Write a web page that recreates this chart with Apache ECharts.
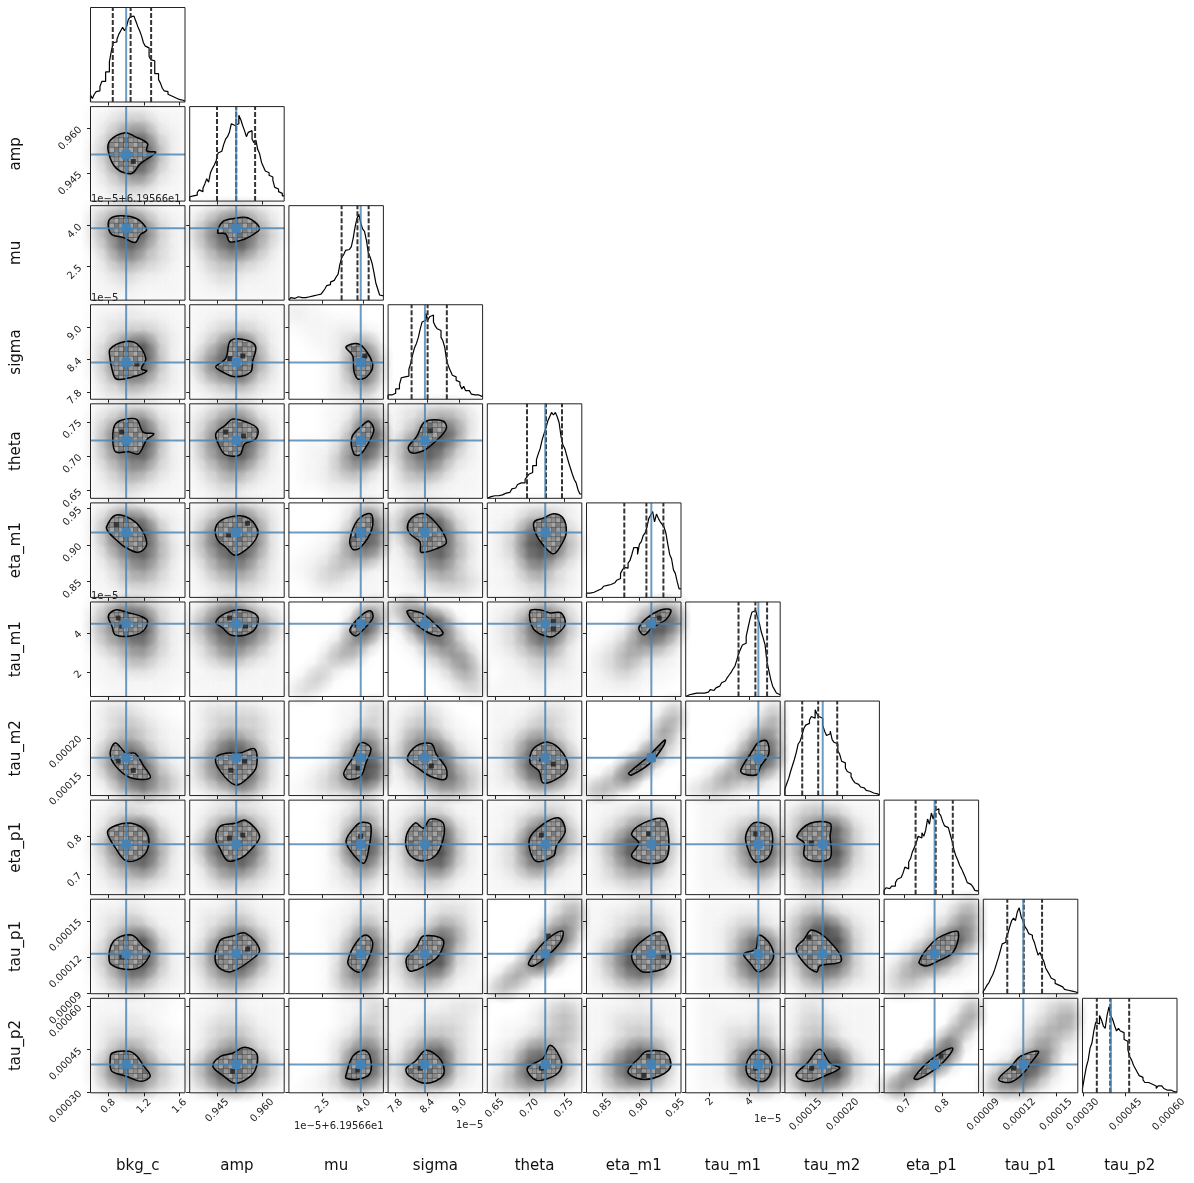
<!DOCTYPE html>
<html><head><meta charset="utf-8">
<style>html,body{margin:0;padding:0;background:#fff}#c{width:1194px;height:1183px}</style>
<script src="https://cdn.jsdelivr.net/npm/echarts@6/dist/echarts.min.js"></script>
</head><body><div id="c"></div>
<script>
// Units: mu is shown as (value-61.9566)/1e-5; sigma, tau_* are in units of 1e-5.
const paramNames=["bkg_c","amp","mu","sigma","theta","eta_m1","tau_m1","tau_m2","eta_p1","tau_p1","tau_p2"];
const axisMin=[0.60,0.9358,1.27,7.66,0.639,0.828,0.79,12.19,0.647,9.0,29.9];
const axisMax=[1.66,0.9673,4.73,9.43,0.776,0.958,5.55,24.96,0.896,16.8,62.9];
const tickValues=[[0.8,1.2,1.6],[0.945,0.96],[2.5,4],[7.8,8.4,9],[0.65,0.7,0.75],[0.85,0.9,0.95],[2,4],[15,20],[0.7,0.8],[9,12,15],[30,45,60]];
const tickLabels=[["0.8","1.2","1.6"],["0.945","0.960"],["2.5","4.0"],["7.8","8.4","9.0"],["0.65","0.70","0.75"],["0.85","0.90","0.95"],["2","4"],["0.00015","0.00020"],["0.7","0.8"],["0.00009","0.00012","0.00015"],["0.00030","0.00045","0.00060"]];
const truths=[1.0,0.9513,3.9,8.35,0.723,0.9172,4.45,17.3,0.78,12.3,39.8];
const quantiles=[[0.85,1.05,1.28],[0.9449,0.9513,0.9576],[3.2,3.78,4.19],[8.10,8.40,8.76],[0.6966,0.7241,0.7473],[0.880,0.9104,0.9338],[3.45,4.30,4.89],[14.53,16.69,19.26],[0.730,0.783,0.828],[10.98,12.34,13.85],[34.9,39.6,46.2]];

const hist_bkg_c=[8,4,9,12,13,18,24,24,35,35,47,59,69,70,73,79,83,87,83,87,96,99,100,98,94,88,83,77,69,65,63,53,49,48,33,33,26,22,16,13,12,9,7,7,5,4,3,3,2,1];
const hist_amp=[5,6,5,7,10,13,11,15,20,26,22,33,38,42,47,56,58,60,66,72,75,80,90,88,87,90,100,95,88,82,75,80,82,72,68,71,60,55,45,40,35,33,30,28,24,16,14,11,9,6];
const hist_mu=[2,3,2,4,4,3,3,4,3,4,4,5,5,5,6,6,7,9,10,13,17,18,21,23,25,27,30,42,50,53,58,59,60,62,72,85,95,100,90,83,80,70,55,50,43,32,20,13,6,5];
const hist_sigma=[5,5,7,7,12,12,17,25,26,28,27,35,42,52,60,65,72,82,90,92,100,92,96,98,90,85,82,80,72,68,60,45,38,33,28,26,22,20,17,12,15,10,10,8,6,5,7,5,5,3];
const hist_theta=[2,2,2,3,3,3,4,4,6,6,8,7,9,11,12,14,16,18,20,18,22,25,28,30,38,38,45,52,58,68,75,82,90,95,100,97,100,95,88,72,62,58,50,42,35,28,22,18,10,5];
const hist_eta_m1=[5,5,6,6,7,8,9,10,10,13,14,12,15,17,17,18,20,22,28,32,35,34,40,43,50,58,58,50,62,65,72,75,82,92,96,100,88,97,92,88,85,82,75,62,50,45,32,28,18,10];
const hist_tau_m1=[2,2,4,3,4,4,3,4,5,4,5,5,6,8,7,8,10,12,14,16,18,20,22,25,28,32,35,42,50,55,60,62,70,80,90,98,100,98,92,85,75,68,60,40,30,20,12,8,4,2];
const hist_tau_m2=[8,14,20,28,35,42,50,60,63,70,78,82,84,88,92,90,100,95,92,90,82,75,70,72,75,65,62,60,52,48,40,38,32,28,26,22,18,15,13,12,10,9,8,6,5,5,3,3,2,1];
const hist_eta_p1=[5,8,7,9,10,10,14,18,20,22,25,32,30,38,42,50,55,60,68,66,72,68,75,88,82,95,88,98,100,95,92,85,80,78,78,70,62,52,45,40,34,30,25,20,14,12,10,9,5,4];
const hist_tau_p1=[3,6,10,13,18,22,28,35,42,50,58,60,65,70,78,85,88,85,95,100,90,85,78,75,70,68,65,60,52,45,48,42,38,30,26,22,18,16,12,10,9,8,7,5,4,3,3,2,2,1];
const hist_tau_p2=[5,18,30,38,52,58,72,82,80,90,85,78,75,90,100,90,85,78,72,75,72,70,62,60,50,42,38,32,28,24,20,18,15,12,12,10,10,8,8,5,8,8,6,5,3,4,3,2,1,1];
const histograms=[hist_bkg_c,hist_amp,hist_mu,hist_sigma,hist_theta,hist_eta_m1,hist_tau_m1,hist_tau_m2,hist_eta_p1,hist_tau_p1,hist_tau_p2];

// Sample density read per panel: 8 rows (top to bottom) of 8 bins, 0-9. One entry per x parameter.
const dens_amp=["11222111 12344211 13577321 24799521 24799521 13577321 12344211 01221111"];
const dens_mu=["23443211 35786321 35898421 24785321 13564321 12332211 11221111 11111111",
"12344321 24687531 35899642 24688531 13454321 12332211 11221111 11111111"];
const dens_sigma=["11121111 12222211 12344321 23689421 24799521 24788421 13465321 12232211",
"11111111 11222211 12344321 13589521 25799631 25789531 13456321 11222211",
"21100000 11111100 01112221 00112462 00012684 00012684 00012473 00012231"];
const dens_theta=["12233211 23577321 25799521 25799521 24678421 13465321 12343211 11221111",
"12344211 23577421 24789631 25799631 24688521 13465321 12343211 11221111",
"00011243 00011375 00012598 01113697 01124785 01124542 01122321 00011111",
"12233321 12356531 13589731 25798521 25786321 14564211 13332111 11211111"];
const dens_eta_m1=["12332111 24787321 25899521 24789531 13578531 12356421 11344321 11122211",
"12344321 23578531 25899731 35899731 24688531 13566421 12344321 11222211",
"00001243 00001386 00012597 00113787 01124564 11234321 01232111 00111111",
"13443211 25797321 25899521 13689531 12478531 11356421 11234432 01112221",
"11122221 11245421 12379842 12489953 12378742 11256321 11234321 11122211"];
const dens_tau_m1=["24665321 35899421 35799421 24567421 12355321 11233211 11111111 01111110",
"13575321 35899642 35899752 23677531 13464321 11222111 11111111 11111111",
"00000134 00000396 00001694 00013641 00035410 00231100 02410000 23100000",
"36520000 14897200 02698410 01257521 00134651 00012463 00001243 00000123",
"11235431 12369842 12369952 12357631 11234421 01123221 01112111 11111111",
"00002354 00014797 00126985 01246652 12354321 12342111 11221110 11111000"];
const dens_tau_m2=["12221100 12332110 12343211 13553211 25796321 25798421 13689542 11457542",
"12222211 12333321 12343321 13576421 24799631 25799631 24689631 12346421",
"00001123 00001123 00001243 00012475 00013696 00124798 01235897 11233452",
"11221000 12332100 13442110 14675211 25798421 13699532 12468743 11235542",
"11112221 11123321 11234321 12367531 12479852 12489953 12368852 11134321",
"00000013 00000035 00000163 00000352 00003831 00069300 02582000 45300000",
"00000013 00000125 00001255 00001586 00014797 00126985 01364531 23432111"];
const dens_eta_p1=["11222111 12343211 13689421 25899531 24799631 13568521 12344321 11222111",
"11222211 12344321 13689531 25899731 25899731 13678531 12454321 11222211",
"00001232 00012353 00012674 00013897 00014896 00012574 00012342 00011221",
"11222111 12344211 13689421 14799521 14799521 13578421 12344211 11222111",
"11112221 11234431 11258952 12389953 12379742 12367421 11233211 11111111",
"11112211 11234331 12357741 13589952 13589952 12467741 12344321 11122211",
"01111111 01112232 01123574 01124796 01124797 01123675 01112342 01111121",
"12322111 24454211 25798421 36897421 36899421 25687321 13454211 12322111"];
const dens_tau_p1=["11121111 12232111 12354211 13689421 24799521 24799521 13576321 12343211",
"11122111 12233211 12355321 13689631 24899731 24799631 13566321 12343211",
"00001122 00011232 00011354 00012586 00013697 00013795 00014674 00013442",
"11112221 11123321 11236531 12479631 14799421 24789321 13565211 12332111",
"00000134 00000245 00002574 00013882 00039831 00269410 03631000 35210000",
"11112211 11223321 11234431 12358741 13589851 13589952 12467641 11233211",
"01111111 01112221 01123432 01124785 01125796 01125896 01124675 01112342",
"12321111 24553211 35897321 36899421 36899421 25798421 14665321 12332111",
"00001134 00001255 00013475 00125985 01368841 13577421 24532110 23210000"];
const dens_tau_p2=["11111110 11121100 12222110 12333211 13564211 25797421 25897431 13465321",
"11121111 11222111 12333211 12344221 13576421 35899642 35899642 23565321",
"00001123 00001123 00001243 00012354 00013686 00013897 00124996 01123543",
"11111222 11122221 11233321 12344321 13588421 24799421 24789321 13443211",
"00001232 00012343 01112343 01134443 12367532 12489852 13589742 23454321",
"11112111 11222211 11233311 11234331 12468741 13689851 13589741 12444321",
"01111111 01111121 01122232 01123342 01124675 01125897 01125896 01113453",
"12211111 12321111 13332111 13442111 25676311 36899421 36899421 25664211",
"00000014 00000036 00000162 00001730 00016910 00389300 04851000 57200000",
"00001233 00011345 00013454 00124532 00136621 02389510 25896310 36653100"];
const densities=[[],dens_amp,dens_mu,dens_sigma,dens_theta,dens_eta_m1,dens_tau_m1,dens_tau_m2,dens_eta_p1,dens_tau_p1,dens_tau_p2];

// Contour outlines as [x,y] in data units. One entry per x parameter.
const cont_amp=[[[.82,.956],[.99,.9586],[1.10,.9573],[1.24,.955],[1.23,.9526],[1.33,.952],[1.16,.9483],[1.06,.945],[.89,.9467],[.80,.9523]]];
const cont_mu=[[[.82,4.25],[.94,4.36],[1.12,4.25],[1.23,3.85],[1.16,3.67],[1.10,3.38],[.97,3.56],[.84,3.67],[.80,3.96]],
[[.9451,3.74],[.9468,4.14],[.9501,4.25],[.9551,4.29],[.9591,3.89],[.9558,3.6],[.9525,3.45],[.9491,3.41],[.9478,3.7]]];
const cont_sigma=[[[.82,8.6],[.99,8.74],[1.12,8.7],[1.22,8.42],[1.17,8.23],[1.23,8.19],[1.08,8.08],[.89,8.04],[.84,8.23],[.82,8.42]],
[[.9445,8.27],[.9478,8.42],[.9495,8.76],[.9551,8.76],[.9578,8.64],[.9568,8.38],[.9561,8.17],[.9511,8.08],[.9468,8.17]],
[[3.36,8.64],[3.8,8.7],[4.12,8.55],[4.34,8.29],[4.12,8.08],[3.8,8.04],[3.65,8.19],[3.61,8.47]]];
const cont_theta=[[[.88,.747],[1.0,.754],[1.12,.753],[1.19,.735],[1.31,.7325],[1.23,.724],[1.14,.7035],[1.03,.7065],[.88,.7065],[.85,.728]],
[[.9445,.7325],[.9478,.7455],[.9501,.754],[.9544,.75],[.9584,.74],[.9578,.725],[.9541,.718],[.9525,.702],[.9478,.702],[.9458,.7135]],
[[3.58,.728],[3.98,.7455],[4.2,.751],[4.38,.738],[4.16,.718],[3.87,.702],[3.65,.7035]],
[[8.04,.7137],[8.19,.728],[8.35,.75],[8.69,.751],[8.75,.74],[8.54,.721],[8.32,.708],[8.09,.705]]];
const cont_eta_m1=[[[.78,.925],[.88,.941],[1.05,.936],[1.17,.922],[1.23,.901],[1.14,.890],[.99,.897],[.89,.907],[.80,.918]],
[[.9445,.925],[.9478,.937],[.9544,.939],[.9584,.922],[.9578,.908],[.9544,.893],[.9508,.886],[.9478,.897],[.9451,.907]],
[[3.5,.907],[3.8,.935],[4.27,.943],[4.31,.922],[3.9,.897],[3.61,.894]],
[[8.02,.925],[8.13,.939],[8.35,.943],[8.56,.930],[8.69,.917],[8.75,.903],[8.6,.896],[8.28,.890],[8.26,.904],[8.09,.914]],
[[.707,.932],[.72,.937],[.735,.943],[.749,.937],[.7535,.917],[.746,.900],[.735,.888],[.72,.900],[.7086,.917]]];
const cont_tau_m1=[[[.80,4.84],[.88,5.15],[1.03,5.0],[1.16,4.84],[1.24,4.59],[1.19,4.09],[1.05,3.84],[.88,3.89],[.84,4.34]],
[[.9445,4.54],[.9478,4.99],[.9535,5.15],[.9584,4.84],[.9578,4.24],[.9544,3.89],[.9495,3.89],[.9468,4.24]],
[[3.5,4.14],[3.9,4.84],[4.27,5.1],[4.34,4.74],[3.98,4.14],[3.72,3.84]],
[[8.02,5.1],[8.28,5.0],[8.54,4.44],[8.69,3.99],[8.6,3.84],[8.35,4.09],[8.09,4.69]],
[[.701,5.1],[.716,5.15],[.730,5.0],[.746,5.0],[.752,4.44],[.742,3.99],[.730,3.79],[.706,4.19]],
[[.900,4.24],[.911,4.74],[.930,5.15],[.944,5.15],[.938,4.69],[.918,4.24],[.907,3.89]]];
const cont_tau_m2=[[[.82,17.9],[.88,19.3],[1.0,17.9],[1.10,17.9],[1.19,16.3],[1.27,14.6],[1.05,14.6],[.88,16.2]],
[[.9445,17.3],[.9478,17.9],[.9525,17.9],[.9574,18.5],[.9581,16.2],[.9558,14.8],[.9511,13.6],[.9458,15.6]],
[[3.28,15.2],[3.61,17.3],[3.9,19.3],[4.27,18.6],[4.09,16.6],[3.9,14.8],[3.43,14.4]],
[[8.02,17.1],[8.19,18.9],[8.47,19.2],[8.56,17.8],[8.75,15.8],[8.73,14.4],[8.45,14.8],[8.22,15.9]],
[[.7057,18.5],[.7275,19.4],[.749,17.9],[.755,15.8],[.739,14.4],[.720,13.9],[.714,15.5],[.701,16.6]],
[[.886,15.2],[.911,17.3],[.936,19.7],[.934,18.9],[.916,16.6],[.890,14.96]],
[[3.56,15.6],[4.07,17.9],[4.47,19.4],[4.87,19.56],[4.97,17.8],[4.57,16.2],[4.37,15],[3.71,15.1]]];
const cont_eta_p1=[[[.79,.812],[.89,.830],[1.06,.835],[1.22,.814],[1.25,.775],[1.16,.743],[1.0,.736],[.88,.77]],
[[.9445,.796],[.9461,.828],[.9511,.835],[.9544,.843],[.9591,.801],[.9558,.762],[.9528,.743],[.9485,.736],[.9458,.77]],
[[3.36,.788],[3.72,.828],[3.98,.838],[4.27,.83],[4.2,.77],[4.02,.73],[3.65,.751]],
[[8.0,.801],[8.17,.836],[8.32,.822],[8.45,.846],[8.69,.836],[8.69,.793],[8.54,.749],[8.26,.736],[8.04,.757]],
[[.70,.793],[.72,.833],[.743,.849],[.752,.814],[.739,.775],[.735,.749],[.709,.736]],
[[.890,.807],[.907,.836],[.934,.846],[.941,.801],[.937,.741],[.911,.730],[.890,.749],[.900,.783]],
[[3.81,.801],[4.22,.836],[4.97,.828],[5.17,.793],[4.97,.746],[4.32,.733],[3.96,.762]],
[[13.8,.801],[15.6,.835],[18.3,.835],[18.3,.801],[18.3,.743],[16.1,.735],[14.8,.749],[14.8,.783]]];
const cont_tau_p1=[[[.81,11.7],[.86,13.35],[1.06,13.84],[1.19,12.94],[1.27,12.36],[1.14,11.13],[.91,11.13]],
[[.9445,11.54],[.9458,13.35],[.9501,13.76],[.9544,14],[.9591,12.6],[.9558,11.7],[.9491,10.8]],
[[3.43,11.7],[3.72,13.18],[4.09,13.84],[4.34,13.18],[4.16,11.79],[3.9,10.8],[3.54,11.13]],
[[8.0,11.87],[8.19,12.85],[8.32,13.76],[8.69,13.43],[8.6,12.11],[8.35,11.29],[8.07,10.88]],
[[.6985,11.46],[.71,12.53],[.730,13.68],[.748,14.17],[.746,13.35],[.7245,12.03],[.706,11.29]],
[[.890,12.1],[.9025,13.26],[.930,14.09],[.944,12.1],[.938,11.2],[.916,10.8],[.9025,10.88]],
[[3.71,12.28],[4.32,12.69],[4.47,13.84],[5.07,13.02],[5.17,11.79],[4.47,10.8],[4.07,11.46]],
[[13.7,12.69],[14.8,13.51],[15.8,14.25],[18.3,13.27],[19.8,11.7],[16.9,11.3],[16.5,10.8],[14.9,11.46]],
[[.739,11.62],[.776,13.27],[.810,13.92],[.842,14.09],[.829,12.44],[.784,11.62],[.757,11.29]]];
const cont_tau_p2=[[[.82,40.9],[.84,43.7],[1.03,44.4],[1.12,42.7],[1.19,39.5],[1.27,35.7],[1.17,33.9],[1.0,35.7],[.84,37.4]],
[[.9435,39.2],[.9461,42.66],[.9501,43.7],[.9541,45.8],[.9581,43.7],[.9581,39.2],[.9561,35.7],[.9511,33.2],[.9468,36.0]],
[[3.36,36.0],[3.61,42.66],[4.02,44.75],[4.24,42.66],[4.24,36.7],[3.8,34.6],[3.36,35.0]],
[[8.0,38.5],[8.17,40.9],[8.37,44.75],[8.65,41.3],[8.69,36],[8.37,33.2],[8.04,36]],
[[.697,38.5],[.72,41.96],[.730,46.5],[.745,41.96],[.746,38.5],[.735,35.7],[.71,34.3]],
[[.885,37.4],[.900,41.96],[.911,44.4],[.938,43.7],[.943,38.5],[.920,35],[.897,35]],
[[3.86,40.2],[4.37,44.75],[4.97,42.66],[5.12,37.8],[4.72,33.9],[3.96,35.7]],
[[13.7,36.4],[15.2,40.2],[16.9,45.1],[18.3,40.2],[19.6,38.5],[17.5,35.7],[15.6,33.9],[14.2,34.6]],
[[.726,35],[.757,39.9],[.802,44.4],[.828,45.45],[.810,41.6],[.781,38.1],[.736,34.6]],
[[10.26,34.6],[11.33,39.2],[12.07,42.66],[13.55,44.4],[12.9,40.2],[12.3,36.7],[11.25,33.6]]];
const contours=[[],cont_amp,cont_mu,cont_sigma,cont_theta,cont_eta_m1,cont_tau_m1,cont_tau_m2,cont_eta_p1,cont_tau_p1,cont_tau_p2];

// Densest 2D-histogram bins seen in a panel: [x parameter index, x, y]. One list per y parameter.
const peak_amp=[[0,1.08,.949]];
const peak_mu=[];
const peak_sigma=[[0,1.12,8.32],[1,.9491,8.42],[1,.9535,8.47],[2,4.05,8.47]];
const peak_theta=[[0,.95,.735],[1,.9478,.735],[1,.9538,.7295],[3,8.45,.737]];
const peak_eta_m1=[[0,.89,.928],[1,.9488,.914],[1,.9551,.93],[2,3.76,.914]];
const peak_tau_m1=[[0,.91,4.74],[0,.95,4.34],[1,.9491,4.74],[1,.9544,4.34],[2,3.76,4.39],[4,.7347,4.59],[4,.7347,4.19],[5,.928,4.74]];
const peak_tau_m2=[[0,.91,16.85],[0,1.08,15.6],[1,.9495,15.6],[1,.9541,16.85],[2,3.8,15.9],[3,8.47,16.2],[4,.7173,17.1],[4,.7347,16.45],[6,4.47,17.3]];
const peak_eta_p1=[[1,.9491,.796],[1,.9535,.804],[2,3.9,.801],[4,.7173,.804],[5,.9136,.807],[6,4.32,.807],[7,15.8,.783]];
const peak_tau_p1=[[0,.95,12.03],[1,.9551,12.69],[4,.7275,13.76],[5,.934,12.1],[7,15.4,13.68]];
const peak_tau_p2=[[1,.9501,37.4],[2,3.8,37.8],[3,8.26,38.5],[4,.7173,38.5],[5,.907,36],[5,.9136,42.7],[6,4.32,38.5],[7,15.8,38.5],[8,.797,42.7],[9,11.5,38.5]];
const peaks=[[],peak_amp,peak_mu,peak_sigma,peak_theta,peak_eta_m1,peak_tau_m1,peak_tau_m2,peak_eta_p1,peak_tau_p1,peak_tau_p2];

const N=paramNames.length, HIST_TOP=110, BINS=50, FONT='"DejaVu Sans"', INK='#222', BLUE='rgba(70,130,180,0.8)';
// Fill texture for the inside of a contour: a small tile of grey 2D-histogram-like squares.
function makeTile(){
  const c=document.createElement('canvas');c.width=c.height=19;const g=c.getContext('2d');
  const shades=['#9c9c9c','#868686','#a6a6a6','#7c7c7c','#8f8f8f','#a2a2a2','#6e6e6e','#989898','#a8a8a8','#808080','#949494','#8a8a8a','#7a7a7a','#9e9e9e','#888888','#a4a4a4'];
  const s=19/4;
  shades.forEach((col,k)=>{g.fillStyle=col;g.fillRect((k%4)*s,Math.floor(k/4)*s,s+.5,s+.5)});
  g.strokeStyle='rgba(50,50,50,0.55)';g.lineWidth=.8;
  for(let k=0;k<4;k++){g.beginPath();g.moveTo(k*s,0);g.lineTo(k*s,19);g.moveTo(0,k*s);g.lineTo(19,k*s);g.stroke()}
  return c;
}
const tile={image:makeTile(),repeat:'repeat'};
const grids=[],xAxes=[],yAxes=[],series=[];
function tickAxis(i,showLabels,name,isY){
  const fmt=v=>{let k=0,b=1e9;tickValues[i].forEach((t,j)=>{const d=Math.abs(t-v);if(d<b){b=d;k=j}});return tickLabels[i][k]};
  const len=tickLabels[i][0].length*6;
  const label=isY?{margin:10}:{margin:7+len*.354,align:'center',verticalAlign:'middle'};
  return {type:'value',min:axisMin[i],max:axisMax[i],scale:true,splitLine:{show:false},axisLine:{show:false},
    axisTick:{show:true,length:3.5,lineStyle:{color:INK,width:1},customValues:tickValues[i]},
    axisLabel:Object.assign({show:showLabels,customValues:tickValues[i],rotate:45,formatter:fmt,color:INK,fontSize:10,fontFamily:FONT,hideOverlap:false},label),
    name:name,nameLocation:'middle',nameGap:isY?67:66,nameTextStyle:{fontSize:15,color:'#111',fontFamily:FONT}};
}
function softDot(a){return {type:'radial',x:.5,y:.5,r:.5,colorStops:[{offset:0,color:'rgba(0,0,0,'+a+')'},{offset:1,color:'rgba(0,0,0,0)'}]}}
function vline(ax,x,y0,y1,style){series.push({type:'line',xAxisIndex:ax,yAxisIndex:ax,symbol:'none',silent:true,data:[[x,y0],[x,y1]],lineStyle:style,z:5,animation:false})}
function addPanel(r,c){
  const idx=grids.length;
  grids.push({left:90.5+99.2*c,top:7.5+99.08*r,width:94.5,height:94.5,show:true,borderColor:'#222',borderWidth:1,backgroundColor:'transparent',containLabel:false,z:10});
  xAxes.push(Object.assign(tickAxis(c,r===N-1,r===N-1?paramNames[c]:'',false),{gridIndex:idx,position:'bottom'}));
  if(r===c){
    yAxes.push({type:'value',gridIndex:idx,min:0,max:HIST_TOP,show:false,splitLine:{show:false}});
    const h=histograms[c],w=(axisMax[c]-axisMin[c])/BINS,pts=[[axisMin[c],0]];
    h.forEach((v,k)=>pts.push([axisMin[c]+k*w,v]));
    pts.push([axisMax[c],h[BINS-1]]);
    series.push({type:'line',xAxisIndex:idx,yAxisIndex:idx,step:'end',symbol:'none',silent:true,data:pts,lineStyle:{color:'#000',width:1.2},animation:false,z:4});
    quantiles[c].forEach(q=>vline(idx,q,0,HIST_TOP,{color:'#333',width:2,type:[5,2]}));
    vline(idx,truths[c],0,HIST_TOP,{color:BLUE,width:2});
    return;
  }
  yAxes.push(Object.assign(tickAxis(r,c===0,c===0?paramNames[r]:'',true),{gridIndex:idx,position:'left'}));
  const rows=densities[r][c].split(' '),dots=[];
  rows.forEach((row,ry)=>[...row].forEach((ch,cx)=>{
    const d=+ch; if(!d)return;
    dots.push({value:[axisMin[c]+(cx+.5)/8*(axisMax[c]-axisMin[c]),axisMax[r]-(ry+.5)/8*(axisMax[r]-axisMin[r])],itemStyle:{color:softDot((0.022*Math.pow(d,1.5)).toFixed(3))}});
  }));
  series.push({type:'scatter',xAxisIndex:idx,yAxisIndex:idx,symbol:'circle',symbolSize:34,clip:true,silent:true,data:dots,animation:false,z:1});
  const poly=contours[r][c];
  series.push({type:'custom',xAxisIndex:idx,yAxisIndex:idx,silent:true,animation:false,z:3,clip:true,encode:{x:0,y:1},data:poly,
    renderItem:(p,api)=>p.dataIndex===0?{type:'polygon',shape:{points:poly.map(q=>api.coord(q)),smooth:0.35},style:{fill:tile,stroke:'#000',lineWidth:1.5,lineJoin:'round'}}:null});
  const dark=peaks[r].filter(k=>k[0]===c).map(k=>[k[1],k[2]]);
  if(dark.length)series.push({type:'scatter',xAxisIndex:idx,yAxisIndex:idx,symbol:'rect',symbolSize:5,silent:true,data:dark,itemStyle:{color:'#1c1c1c'},z:4,animation:false});
  vline(idx,truths[c],axisMin[r],axisMax[r],{color:BLUE,width:2});
  series.push({type:'line',xAxisIndex:idx,yAxisIndex:idx,symbol:'none',silent:true,data:[[axisMin[c],truths[r]],[axisMax[c],truths[r]]],lineStyle:{color:BLUE,width:2},z:5,animation:false});
  series.push({type:'scatter',xAxisIndex:idx,yAxisIndex:idx,symbol:'rect',symbolSize:9,silent:true,data:[[truths[c],truths[r]]],itemStyle:{color:'#4682b4',opacity:1},z:8,animation:false});
}
for(let r=0;r<N;r++)for(let c=0;c<=r;c++)addPanel(r,c);

const offsetNotes=[["1e\u22125+6.19566e1",91,194],["1e\u22125",91,293],["1e\u22125",91,591],["1e\u22125+6.19566e1",294,1121],["1e\u22125",456,1120],["1e\u22125",754,1114]];
const chart=echarts.init(document.getElementById('c'),null,{renderer:'canvas'});
chart.setOption({animation:false,backgroundColor:'#fff',grid:grids,xAxis:xAxes,yAxis:yAxes,series:series,
  graphic:offsetNotes.map(n=>({type:'text',left:n[1],top:n[2],z:100,style:{text:n[0],fontSize:10,fontFamily:FONT,fill:INK}}))});
</script></body></html>
